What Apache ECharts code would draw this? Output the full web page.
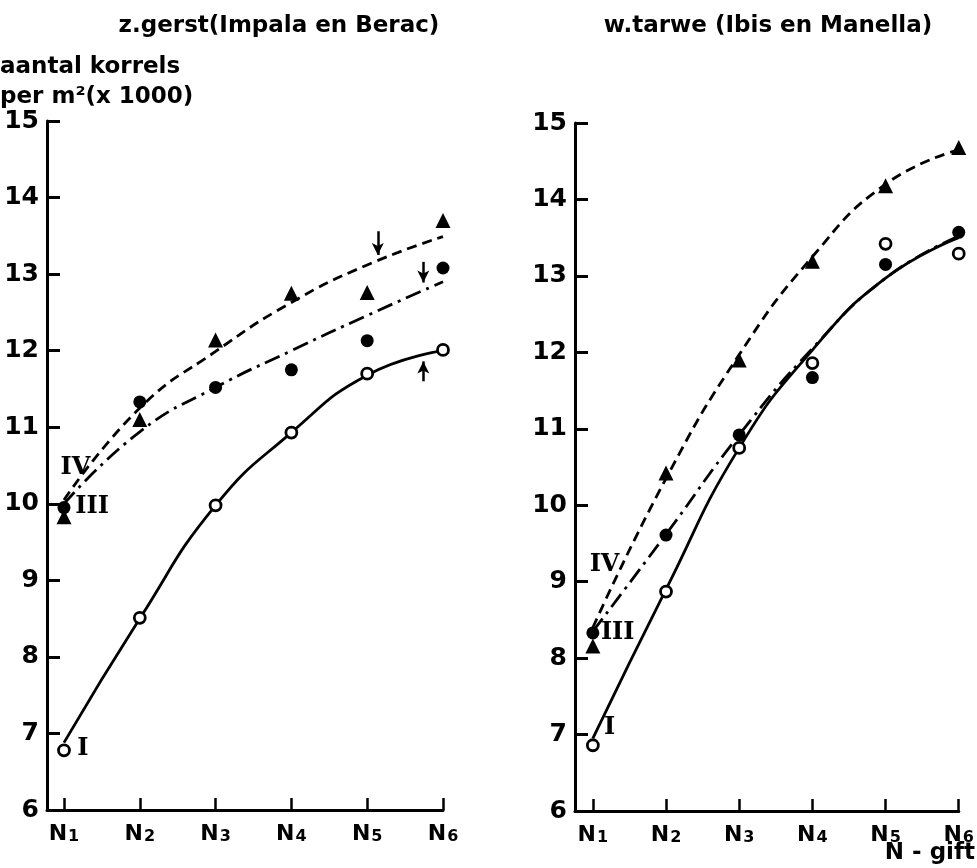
<!DOCTYPE html>
<html>
<head>
<meta charset="utf-8">
<script src="https://cdn.jsdelivr.net/npm/echarts@6/dist/echarts.min.js"></script>
<style>
html, body { margin: 0; padding: 0; background: #fff; }
#chart { width: 977px; height: 868px; }
</style>
</head>
<body>
<div id="chart"></div>
<script>
// N-gift levels and their labels
var nGift = [1, 2, 3, 4, 5, 6];
var nSubs = ['1', '2', '3', '4', '5', '6'];

// z.gerst (left panel) - measured points
var gerstI = [6.78, 8.51, 9.98, 10.93, 11.70, 12.01];     // open circles
var gerstIII = [9.95, 11.33, 11.52, 11.75, 12.13, 13.08]; // filled circles
var gerstIV = [9.83, 11.10, 12.14, 12.75, 12.76, 13.70];  // triangles
// z.gerst fitted curves
var gerstCurveI = [6.88, 8.50, 9.98, 10.93, 11.68, 12.00];
var gerstCurveIII = [10.00, 10.94, 11.52, 12.00, 12.46, 12.90];
var gerstCurveIV = [10.05, 11.25, 11.99, 12.63, 13.12, 13.49];

// w.tarwe (right panel) - measured points
var tarweI = [6.86, 8.87, 10.75, 11.86, 13.42, 13.29];
var tarweIII = [8.33, 9.61, 10.92, 11.67, 13.15, 13.57];
var tarweIV = [8.16, 10.42, 11.90, 13.19, 14.18, 14.68];
// w.tarwe fitted curves
var tarweCurveI = [6.95, 8.90, 10.75, 12.03, 12.97, 13.50];
var tarweCurveIII = [8.35, 9.62, 10.92, 12.05, 12.97, 13.52];
var tarweCurveIV = [8.40, 10.35, 11.97, 13.25, 14.20, 14.65];

// small arrows in the left panel: N position, from, to
var arrowN = [5.14, 5.74, 5.74];
var arrowFrom = [13.56, 13.16, 11.60];
var arrowTo = [13.25, 12.89, 11.86];

// curve names written next to the lines
var romanNames = ['IV', 'III', 'I'];
var gerstNameSpots = [[1.15, 10.47], [1.37, 9.96], [1.25, 6.80]];
var tarweNameSpots = [[1.16, 9.22], [1.34, 8.33], [1.23, 7.09]];

var FONT = 'DejaVu Sans';

function pairs(ys) {
    return ys.map(function (v, i) { return [nGift[i], v]; });
}

function curve(ys, dash, gi) {
    return {
        type: 'line', xAxisIndex: gi, yAxisIndex: gi,
        data: pairs(ys), smooth: 0.5, symbol: 'none',
        lineStyle: { color: '#000', width: 2.8, type: dash },
        z: 2
    };
}

function dots(ys, kind, gi) {
    var s = {
        type: 'scatter', xAxisIndex: gi, yAxisIndex: gi,
        data: pairs(ys), z: 3
    };
    if (kind == 'open') {
        s.symbol = 'circle'; s.symbolSize = 11;
        s.itemStyle = { color: '#fff', borderColor: '#000', borderWidth: 2.8, opacity: 1 };
    } else if (kind == 'filled') {
        s.symbol = 'circle'; s.symbolSize = 13;
        s.itemStyle = { color: '#000', opacity: 1 };
    } else {
        s.symbol = 'triangle'; s.symbolSize = 15;
        s.itemStyle = { color: '#000', opacity: 1 };
    }
    return s;
}

function names(spots, gi) {
    return {
        type: 'scatter', xAxisIndex: gi, yAxisIndex: gi, symbolSize: 1,
        itemStyle: { color: '#fff', opacity: 1 }, z: 4,
        data: spots.map(function (p, i) { return { value: p, name: romanNames[i] }; }),
        label: {
            show: true, position: 'inside', formatter: '{b}',
            color: '#000', fontFamily: 'DejaVu Serif', fontWeight: 'bold', fontSize: 24
        }
    };
}

function xAxisFor(gi, min) {
    return {
        gridIndex: gi, type: 'value', min: min, max: 6,
        axisLine: { show: true, onZero: false, lineStyle: { color: '#000', width: 3 } },
        axisTick: { show: true, inside: true, length: 12, customValues: nGift, lineStyle: { color: '#000', width: 2.5 } },
        axisLabel: {
            customValues: nGift, color: '#000', margin: 6,
            formatter: function (v) { return '{n|N}{s|' + nSubs[Math.round(v) - 1] + '}'; },
            rich: {
                n: { fontFamily: FONT, fontWeight: 'bold', fontSize: 22, color: '#000', verticalAlign: 'bottom' },
                s: { fontFamily: FONT, fontWeight: 'bold', fontSize: 16, color: '#000', verticalAlign: 'bottom', padding: [13, 0, 0, 1] }
            }
        },
        splitLine: { show: false }
    };
}

function yAxisFor(gi) {
    return {
        gridIndex: gi, type: 'value', min: 6, max: 15, interval: 1,
        axisLine: { show: true, onZero: false, lineStyle: { color: '#000', width: 3 } },
        axisTick: { show: true, inside: true, length: 13, lineStyle: { color: '#000', width: 3 } },
        axisLabel: { color: '#000', fontFamily: FONT, fontWeight: 'bold', fontSize: 25, margin: 8 },
        splitLine: { show: false }
    };
}

var arrowSeries = {
    type: 'line', xAxisIndex: 0, yAxisIndex: 0, data: [],
    markLine: {
        silent: true, animation: false,
        symbol: ['none', 'arrow'], symbolSize: [9, 12],
        lineStyle: { color: '#000', width: 2.5, type: 'solid' },
        label: { show: false },
        data: arrowN.map(function (n, i) {
            return [{ coord: [n, arrowFrom[i]] }, { coord: [n, arrowTo[i]] }];
        })
    }
};

function txt(x, y, s, align) {
    return {
        type: 'text', x: x, y: y,
        style: { text: s, font: 'bold 23px "DejaVu Sans"', fill: '#000', align: align || 'left', textAlign: align || 'left' }
    };
}

var chart = echarts.init(document.getElementById('chart'));
var option = {
    animation: false,
    backgroundColor: '#fff',
    grid: [
        { left: 47, top: 121, width: 396, height: 689 },
        { left: 575, top: 123, width: 387, height: 688 }
    ],
    xAxis: [xAxisFor(0, 0.776), xAxisFor(1, 0.756)],
    yAxis: [yAxisFor(0), yAxisFor(1)],
    graphic: [
        txt(279, 15, 'z.gerst(Impala en Berac)', 'center'),
        txt(768, 15, 'w.tarwe (Ibis en Manella)', 'center'),
        txt(0, 56, 'aantal korrels'),
        txt(0, 86, 'per m²(x 1000)'),
        txt(975, 842, 'N - gift', 'right')
    ],
    series: [
        curve(gerstCurveI, 'solid', 0),
        curve(gerstCurveIII, [16, 6, 3, 6], 0),
        curve(gerstCurveIV, [10, 6], 0),
        dots(gerstI, 'open', 0),
        dots(gerstIII, 'filled', 0),
        dots(gerstIV, 'triangle', 0),
        names(gerstNameSpots, 0),
        arrowSeries,
        curve(tarweCurveI, 'solid', 1),
        curve(tarweCurveIII, [16, 6, 3, 6], 1),
        curve(tarweCurveIV, [10, 6], 1),
        dots(tarweI, 'open', 1),
        dots(tarweIII, 'filled', 1),
        dots(tarweIV, 'triangle', 1),
        names(tarweNameSpots, 1)
    ]
};
chart.setOption(option);
</script>
</body>
</html>
